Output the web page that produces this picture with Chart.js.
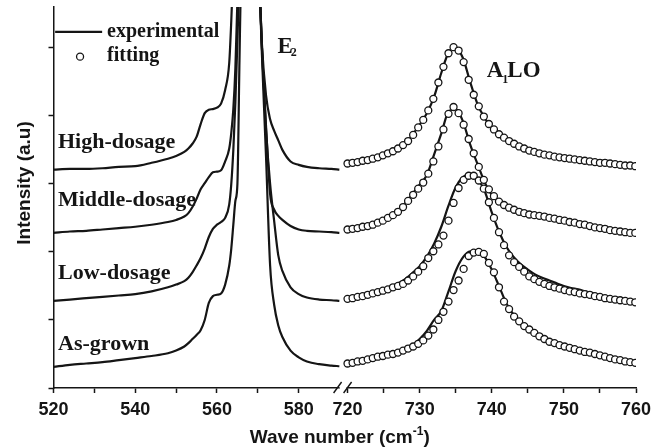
<!DOCTYPE html>
<html>
<head>
<meta charset="utf-8">
<title>Raman spectra</title>
<script src="https://cdn.jsdelivr.net/npm/chart.js"></script>
<style>
  html, body { margin: 0; padding: 0; background: #fff; }
  canvas { display: block; }
</style>
</head>
<body>
<canvas id="ramanChart" width="652" height="448"></canvas>
<script>
// Sample names, top to bottom
var sampleNames = ['High-dosage', 'Middle-dosage', 'Low-dosage', 'As-grown'];

// E2 region (520-590 cm-1), experimental spectra, offset per sample
var leftWavenumber = [520, 524, 528, 532, 536, 540, 544, 548, 550, 552, 553, 554, 555, 556, 557, 558, 559, 560, 561, 562,
    563, 563.5, 564, 564.5, 565, 565.5, 566, 567, 568, 569, 570, 571, 572, 573, 574, 575, 576, 578, 580, 582, 585, 588, 590];
var highLeft = [3.21, 3.22, 3.22, 3.23, 3.25, 3.26, 3.31, 3.37, 3.41, 3.47, 3.52, 3.59, 3.69, 3.88, 4.04, 4.09, 4.10, 4.12, 4.18, 4.38,
    4.78, 5.4, 6.2, 7.0, 7.6, 8.0, 8.4, 9.0, 9.0, 8.5, 6.6, 5.05, 4.3, 3.95, 3.78, 3.64, 3.50, 3.33, 3.28, 3.25, 3.23, 3.22, 3.21];
var middleLeft = [2.28, 2.30, 2.31, 2.33, 2.35, 2.37, 2.40, 2.44, 2.47, 2.52, 2.57, 2.66, 2.78, 2.92, 3.01, 3.10, 3.17, 3.18, 3.20, 3.33,
    3.52, 3.75, 4.1, 4.7, 5.7, 6.6, 7.5, 9.0, 9.0, 8.5, 6.6, 5.0, 3.85, 2.85, 2.62, 2.53, 2.47, 2.38, 2.33, 2.31, 2.30, 2.29, 2.28];
var lowLeft = [1.28, 1.30, 1.32, 1.34, 1.36, 1.38, 1.42, 1.48, 1.52, 1.57, 1.62, 1.70, 1.80, 1.91, 2.05, 2.22, 2.34, 2.40, 2.44, 2.50,
    2.70, 3.0, 3.5, 4.2, 5.1, 6.1, 7.0, 9.0, 9.0, 8.5, 6.6, 5.0, 3.8, 3.0, 2.45, 1.95, 1.72, 1.48, 1.38, 1.33, 1.30, 1.29, 1.28];
var asGrownLeft = [0.31, 0.34, 0.36, 0.38, 0.41, 0.44, 0.47, 0.51, 0.55, 0.61, 0.66, 0.72, 0.78, 0.85, 1.0, 1.25, 1.35, 1.37, 1.39, 1.52,
    1.80, 2.05, 2.4, 2.75, 3.0, 4.8, 6.5, 9.0, 9.0, 8.5, 6.6, 4.9, 3.4, 1.8, 1.22, 0.92, 0.75, 0.55, 0.45, 0.39, 0.35, 0.33, 0.32];

// A1(LO) region (720-760 cm-1), experimental spectra
var rightWavenumber = [720, 721, 722, 723, 724, 725, 726, 727, 728, 729, 730, 731, 732, 733, 734, 735, 736, 737, 738, 739, 740,
    741, 742, 743, 744, 745, 746, 747, 748, 749, 750, 751, 752, 753, 754, 755, 756, 757, 758, 759, 760];
var highRight = [3.30, 3.32, 3.33, 3.35, 3.38, 3.42, 3.46, 3.52, 3.60, 3.72, 3.87, 4.04, 4.28, 4.63, 4.93, 5.00, 4.85, 4.50, 4.18, 3.97, 3.83,
    3.73, 3.66, 3.60, 3.55, 3.51, 3.48, 3.45, 3.42, 3.40, 3.38, 3.37, 3.35, 3.34, 3.33, 3.32, 3.30, 3.29, 3.28, 3.27, 3.26];
var middleRight = [2.33, 2.35, 2.37, 2.39, 2.42, 2.47, 2.53, 2.60, 2.72, 2.85, 2.99, 3.13, 3.43, 3.74, 4.06, 4.10, 3.92, 3.58, 3.30, 3.03, 2.84,
    2.74, 2.67, 2.62, 2.59, 2.56, 2.54, 2.52, 2.50, 2.48, 2.46, 2.44, 2.42, 2.40, 2.37, 2.35, 2.33, 2.31, 2.30, 2.29, 2.28];
var lowRight = [1.31, 1.33, 1.35, 1.38, 1.41, 1.45, 1.49, 1.54, 1.60, 1.69, 1.79, 1.93, 2.12, 2.37, 2.68, 2.95, 3.10, 3.14, 3.07, 2.90, 2.58,
    2.30, 2.08, 1.93, 1.82, 1.74, 1.67, 1.62, 1.58, 1.54, 1.50, 1.47, 1.45, 1.42, 1.39, 1.36, 1.33, 1.31, 1.29, 1.27, 1.26];
var asGrownRight = [0.36, 0.38, 0.40, 0.43, 0.45, 0.48, 0.51, 0.54, 0.58, 0.63, 0.72, 0.84, 1.00, 1.13, 1.42, 1.72, 1.92, 2.01, 2.00, 1.93, 1.74,
    1.50, 1.25, 1.08, 0.97, 0.88, 0.80, 0.74, 0.69, 0.65, 0.61, 0.58, 0.55, 0.53, 0.51, 0.48, 0.46, 0.44, 0.41, 0.39, 0.37];

// Fitted A1(LO) profiles
var fitWavenumber = [720.0, 720.7, 721.4, 722.1, 722.8, 723.5, 724.2, 724.9, 725.6, 726.3,
    727.0, 727.7, 728.4, 729.1, 729.8, 730.5, 731.2, 731.9, 732.6, 733.3,
    734.0, 734.7, 735.4, 736.1, 736.8, 737.5, 738.2, 738.9, 739.6, 740.3,
    741.0, 741.7, 742.4, 743.1, 743.8, 744.5, 745.2, 745.9, 746.6, 747.3,
    748.0, 748.7, 749.4, 750.1, 750.8, 751.5, 752.2, 752.9, 753.6, 754.3,
    755.0, 755.7, 756.4, 757.1, 757.8, 758.5, 759.2, 759.9];
var highFit = [3.30, 3.31, 3.32, 3.34, 3.35, 3.37, 3.39, 3.42, 3.45, 3.48,
    3.52, 3.57, 3.63, 3.72, 3.83, 3.94, 4.08, 4.25, 4.49, 4.72,
    4.92, 5.01, 4.96, 4.79, 4.53, 4.31, 4.14, 3.99, 3.88, 3.80,
    3.73, 3.68, 3.63, 3.59, 3.55, 3.52, 3.49, 3.47, 3.45, 3.43,
    3.42, 3.40, 3.39, 3.38, 3.37, 3.36, 3.35, 3.34, 3.33, 3.32,
    3.31, 3.31, 3.30, 3.29, 3.28, 3.27, 3.27, 3.26];
var middleFit = [2.33, 2.34, 2.35, 2.37, 2.38, 2.40, 2.43, 2.46, 2.50, 2.54,
    2.59, 2.66, 2.75, 2.84, 2.93, 3.02, 3.15, 3.33, 3.55, 3.80,
    4.03, 4.13, 4.04, 3.87, 3.66, 3.45, 3.25, 3.06, 2.92, 2.82,
    2.74, 2.69, 2.65, 2.62, 2.59, 2.57, 2.55, 2.54, 2.53, 2.52,
    2.50, 2.49, 2.47, 2.46, 2.44, 2.43, 2.41, 2.40, 2.38, 2.36,
    2.35, 2.34, 2.32, 2.31, 2.30, 2.29, 2.28, 2.28];
var lowFit = [1.31, 1.32, 1.34, 1.35, 1.37, 1.39, 1.41, 1.43, 1.45, 1.48,
    1.50, 1.53, 1.58, 1.64, 1.71, 1.79, 1.91, 2.01, 2.11, 2.24,
    2.46, 2.72, 2.94, 3.06, 3.12, 3.12, 3.05, 2.93, 2.73, 2.50,
    2.29, 2.10, 1.95, 1.85, 1.78, 1.71, 1.64, 1.60, 1.56, 1.53,
    1.50, 1.48, 1.46, 1.44, 1.42, 1.41, 1.39, 1.38, 1.37, 1.35,
    1.34, 1.32, 1.31, 1.30, 1.29, 1.28, 1.27, 1.26];
var asGrownFit = [0.36, 0.37, 0.39, 0.40, 0.42, 0.44, 0.46, 0.47, 0.49, 0.50,
    0.52, 0.55, 0.58, 0.61, 0.65, 0.70, 0.77, 0.86, 1.00, 1.12,
    1.27, 1.44, 1.58, 1.75, 1.94, 1.99, 2.00, 1.97, 1.84, 1.70,
    1.48, 1.27, 1.16, 1.05, 0.98, 0.91, 0.86, 0.81, 0.76, 0.72,
    0.68, 0.66, 0.63, 0.61, 0.59, 0.57, 0.55, 0.53, 0.52, 0.50,
    0.48, 0.46, 0.44, 0.42, 0.41, 0.39, 0.38, 0.37];

// Axis ticks
var leftTicks = [520, 530, 540, 550, 560, 570, 580];
var leftTickLabels = [520, 540, 560, 580];
var rightTicks = [720, 725, 730, 735, 740, 745, 750, 755, 760];
var rightTickLabels = [720, 730, 740, 750, 760];
var intensityTicks = [0, 1, 2, 3, 4, 5];

var INK = '#151515';
var SANS = '"Liberation Sans", Arial, sans-serif';
var SERIF = '"Liberation Serif", "Times New Roman", serif';

function pairs(xs, ys) {
    return xs.map(function(x, i) { return {x: x, y: ys[i]}; });
}

function lineSet(xs, ys, axis) {
    return {
        data: pairs(xs, ys),
        xAxisID: axis,
        yAxisID: 'y',
        borderColor: INK,
        borderWidth: 2.2,
        pointRadius: 0,
        cubicInterpolationMode: 'monotone',
        fill: false,
        order: 1
    };
}

function fitSet(ys) {
    return {
        data: pairs(fitWavenumber, ys),
        xAxisID: 'xR',
        yAxisID: 'y',
        showLine: false,
        pointStyle: 'circle',
        pointRadius: 3.5,
        pointBorderWidth: 1.3,
        pointBorderColor: INK,
        pointBackgroundColor: '#fff',
        order: 0
    };
}

function xAxis(min, max, weight, ticks, labels) {
    return {
        type: 'linear',
        axis: 'x',
        position: 'bottom',
        stack: 'wave',
        stackWeight: weight,
        min: min,
        max: max,
        afterBuildTicks: function(scale) {
            scale.ticks = ticks.map(function(v) { return {value: v}; });
        },
        afterFit: function(scale) {
            scale.height = 60;
            scale.paddingLeft = 0;
            scale.paddingRight = 0;
        },
        ticks: {
            autoSkip: false,
            maxRotation: 0,
            padding: 6,
            color: INK,
            font: {family: SANS, size: 18, weight: 'bold'},
            callback: function(v) { return labels.indexOf(v) >= 0 ? String(v) : ''; }
        },
        grid: {drawOnChartArea: false, drawTicks: true, tickLength: 5, tickColor: INK, tickWidth: 1.5},
        border: {color: INK, width: 1.5}
    };
}

// Labels, legend, axis titles and the axis break
var decorations = {
    id: 'decorations',
    afterDraw: function(chart) {
        var ctx = chart.ctx, area = chart.chartArea;
        var xL = chart.scales.xL, xR = chart.scales.xR, y = chart.scales.y;
        ctx.save();
        ctx.fillStyle = INK;
        ctx.strokeStyle = INK;
        ctx.textAlign = 'left';
        ctx.textBaseline = 'alphabetic';

        // sample names
        var nameLevels = [3.53, 2.68, 1.60, 0.56];
        ctx.font = 'bold 22px ' + SERIF;
        sampleNames.forEach(function(name, i) {
            ctx.fillText(name, xL.getPixelForValue(521.1), y.getPixelForValue(nameLevels[i]));
        });

        // legend
        ctx.lineWidth = 2.2;
        ctx.beginPath();
        ctx.moveTo(xL.getPixelForValue(520.4), y.getPixelForValue(5.235));
        ctx.lineTo(xL.getPixelForValue(531.9), y.getPixelForValue(5.235));
        ctx.stroke();
        ctx.font = 'bold 20px ' + SERIF;
        ctx.fillText('experimental', xL.getPixelForValue(533.1), y.getPixelForValue(5.16));
        ctx.fillText('fitting', xL.getPixelForValue(533.1), y.getPixelForValue(4.81));
        ctx.lineWidth = 1.3;
        ctx.fillStyle = '#fff';
        ctx.beginPath();
        ctx.arc(xL.getPixelForValue(526.5), y.getPixelForValue(4.87), 3.5, 0, Math.PI * 2);
        ctx.fill();
        ctx.stroke();
        ctx.fillStyle = INK;

        // mode labels
        var ex = xL.getPixelForValue(574.8), ey = y.getPixelForValue(4.93);
        ctx.font = 'bold 23px ' + SERIF;
        ctx.fillText('E', ex, ey);
        var ew = ctx.measureText('E').width;
        ctx.font = 'bold 12px ' + SERIF;
        ctx.fillText('2', ex + ew - 2, ey + 3);

        var ax = xR.getPixelForValue(739.3), ay = y.getPixelForValue(4.57);
        ctx.font = 'bold 23px ' + SERIF;
        ctx.fillText('A', ax, ay);
        var aw = ctx.measureText('A').width;
        ctx.font = 'bold 12px ' + SERIF;
        ctx.fillText('1', ax + aw - 1, ay + 6);
        ctx.font = 'bold 23px ' + SERIF;
        ctx.fillText('LO', ax + aw + 4, ay);

        // axis break
        var bx = xL.right, by = area.bottom;
        ctx.fillStyle = '#fff';
        ctx.fillRect(bx, by - 2, 7, 4);
        ctx.lineWidth = 1.4;
        ctx.beginPath();
        ctx.moveTo(bx - 6, by + 5); ctx.lineTo(bx + 2, by - 6);
        ctx.moveTo(bx + 4, by + 5); ctx.lineTo(bx + 12, by - 6);
        ctx.stroke();
        ctx.fillStyle = INK;

        // x title with superscript
        var cx = (area.left + area.right) / 2 - 5, ty = 443;
        ctx.font = 'bold 19px ' + SANS;
        var t1 = 'Wave number (cm', t3 = ')';
        var w1 = ctx.measureText(t1).width, w3 = ctx.measureText(t3).width;
        ctx.font = 'bold 12px ' + SANS;
        var w2 = ctx.measureText('-1').width;
        var sx = cx - (w1 + w2 + w3) / 2;
        ctx.font = 'bold 19px ' + SANS;
        ctx.fillText(t1, sx, ty);
        ctx.font = 'bold 12px ' + SANS;
        ctx.fillText('-1', sx + w1, ty - 8);
        ctx.font = 'bold 19px ' + SANS;
        ctx.fillText(t3, sx + w1 + w2, ty);

        // y title
        ctx.translate(29.5, 183);
        ctx.rotate(-Math.PI / 2);
        ctx.textAlign = 'center';
        ctx.fillText('Intensity (a.u)', 0, 0);
        ctx.restore();
    }
};

var data = {
    datasets: [
        fitSet(highFit), fitSet(middleFit), fitSet(lowFit), fitSet(asGrownFit),
        lineSet(rightWavenumber, highRight, 'xR'), lineSet(rightWavenumber, middleRight, 'xR'),
        lineSet(rightWavenumber, lowRight, 'xR'), lineSet(rightWavenumber, asGrownRight, 'xR'),
        lineSet(leftWavenumber, highLeft, 'xL'), lineSet(leftWavenumber, middleLeft, 'xL'),
        lineSet(leftWavenumber, lowLeft, 'xL'), lineSet(leftWavenumber, asGrownLeft, 'xL')
    ]
};

var config = {
    type: 'line',
    data: data,
    plugins: [decorations],
    options: {
        responsive: false,
        devicePixelRatio: 1,
        animation: false,
        events: [],
        layout: {padding: {top: 7, right: 16, left: 0, bottom: 0}},
        plugins: {legend: {display: false}, tooltip: {enabled: false}, title: {display: false}},
        scales: {
            xL: xAxis(520, 590, 285.6, leftTicks, leftTickLabels),
            xR: xAxis(718.9, 760, 295.9, rightTicks, rightTickLabels),
            y: {
                type: 'linear',
                position: 'left',
                min: 0,
                max: 5.6,
                afterBuildTicks: function(scale) {
                    scale.ticks = intensityTicks.map(function(v) { return {value: v}; });
                },
                afterFit: function(scale) {
                    scale.width = 53.5;
                    scale.paddingTop = 0;
                    scale.paddingBottom = 0;
                },
                ticks: {display: false},
                grid: {drawOnChartArea: false, drawTicks: true, tickLength: 5, tickColor: INK, tickWidth: 1.5},
                border: {color: INK, width: 1.5}
            }
        }
    }
};

new Chart(document.getElementById('ramanChart'), config);
</script>
</body>
</html>
